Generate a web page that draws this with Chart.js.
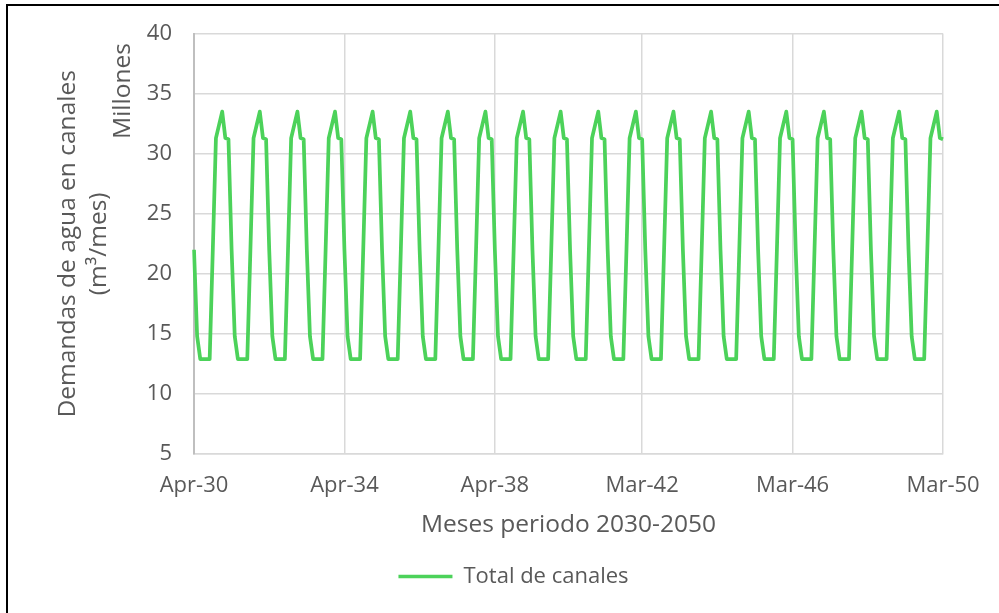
<!DOCTYPE html>
<html>
<head>
<meta charset="utf-8">
<script src="https://cdn.jsdelivr.net/npm/chart.js@4.4.1/dist/chart.umd.min.js"></script>
<style>
  html, body { margin: 0; padding: 0; background: #fff; overflow: hidden; }
  #frame { position: absolute; left: 6px; top: 4px; width: 1100px; height: 700px; border: 2px solid #000; }
  #wrap { position: absolute; left: 0; top: 0; width: 999px; height: 613px; }
</style>
</head>
<body>
<div id="frame"></div>
<div id="wrap"><canvas id="demandChart"></canvas></div>
<script>
// Months of each Apr-Mar water year and the year each one starts in
var monthNames = ['Apr', 'May', 'Jun', 'Jul', 'Aug', 'Sep', 'Oct', 'Nov', 'Dec', 'Jan', 'Feb', 'Mar'];
var startYears = [30, 31, 32, 33, 34, 35, 36, 37, 38, 39, 40, 41, 42, 43, 44, 45, 46, 47, 48, 49];

// Total de canales, millions of m3 per month, one row per year (Apr..Mar)
var demandByYear = [
    [22.0, 14.8, 12.9, 12.9, 12.9, 12.9, 22.0, 31.3, 32.4, 33.5, 31.3, 31.2],
    [22.0, 14.8, 12.9, 12.9, 12.9, 12.9, 22.0, 31.3, 32.4, 33.5, 31.3, 31.2],
    [22.0, 14.8, 12.9, 12.9, 12.9, 12.9, 22.0, 31.3, 32.4, 33.5, 31.3, 31.2],
    [22.0, 14.8, 12.9, 12.9, 12.9, 12.9, 22.0, 31.3, 32.4, 33.5, 31.3, 31.2],
    [22.0, 14.8, 12.9, 12.9, 12.9, 12.9, 22.0, 31.3, 32.4, 33.5, 31.3, 31.2],
    [22.0, 14.8, 12.9, 12.9, 12.9, 12.9, 22.0, 31.3, 32.4, 33.5, 31.3, 31.2],
    [22.0, 14.8, 12.9, 12.9, 12.9, 12.9, 22.0, 31.3, 32.4, 33.5, 31.3, 31.2],
    [22.0, 14.8, 12.9, 12.9, 12.9, 12.9, 22.0, 31.3, 32.4, 33.5, 31.3, 31.2],
    [22.0, 14.8, 12.9, 12.9, 12.9, 12.9, 22.0, 31.3, 32.4, 33.5, 31.3, 31.2],
    [22.0, 14.8, 12.9, 12.9, 12.9, 12.9, 22.0, 31.3, 32.4, 33.5, 31.3, 31.2],
    [22.0, 14.8, 12.9, 12.9, 12.9, 12.9, 22.0, 31.3, 32.4, 33.5, 31.3, 31.2],
    [22.0, 14.8, 12.9, 12.9, 12.9, 12.9, 22.0, 31.3, 32.4, 33.5, 31.3, 31.2],
    [22.0, 14.8, 12.9, 12.9, 12.9, 12.9, 22.0, 31.3, 32.4, 33.5, 31.3, 31.2],
    [22.0, 14.8, 12.9, 12.9, 12.9, 12.9, 22.0, 31.3, 32.4, 33.5, 31.3, 31.2],
    [22.0, 14.8, 12.9, 12.9, 12.9, 12.9, 22.0, 31.3, 32.4, 33.5, 31.3, 31.2],
    [22.0, 14.8, 12.9, 12.9, 12.9, 12.9, 22.0, 31.3, 32.4, 33.5, 31.3, 31.2],
    [22.0, 14.8, 12.9, 12.9, 12.9, 12.9, 22.0, 31.3, 32.4, 33.5, 31.3, 31.2],
    [22.0, 14.8, 12.9, 12.9, 12.9, 12.9, 22.0, 31.3, 32.4, 33.5, 31.3, 31.2],
    [22.0, 14.8, 12.9, 12.9, 12.9, 12.9, 22.0, 31.3, 32.4, 33.5, 31.3, 31.2],
    [22.0, 14.8, 12.9, 12.9, 12.9, 12.9, 22.0, 31.3, 32.4, 33.5, 31.3, 31.2]
];

// Labels that Excel printed under the axis
var tickLabels = ['Apr-30', 'Apr-34', 'Apr-38', 'Mar-42', 'Mar-46', 'Mar-50'];

var textColor = '#595959';
var lineColor = '#4CD25A';
var fontFamily = "'Open Sans', sans-serif";

var labels = [];
var values = [];
startYears.forEach(function(y, r) {
    monthNames.forEach(function(m, k) {
        labels.push(m + '-' + (k < 9 ? y : y + 1));
        values.push(demandByYear[r][k]);
    });
});

// Rotated "Millones" unit label next to the value axis
var unitsLabel = {
    id: 'unitsLabel',
    afterLayout: function(chart) {
        // Excel centres the legend a bit right of the canvas middle
        chart.legend.left += 42;
        chart.legend.right += 42;
    },
    afterDraw: function(chart) {
        var ctx = chart.ctx;
        ctx.save();
        ctx.translate(123.5, 91);
        ctx.rotate(-Math.PI / 2);
        ctx.font = '24.5px ' + fontFamily;
        ctx.fillStyle = textColor;
        ctx.textAlign = 'center';
        ctx.textBaseline = 'middle';
        ctx.fillText('Millones', 0, 0);
        ctx.restore();
    }
};

var ctx = document.getElementById('demandChart').getContext('2d');
var demandChart = new Chart(ctx, {
    type: 'line',
    data: {
        labels: labels,
        datasets: [{
            label: 'Total de canales',
            data: values,
            borderColor: lineColor,
            backgroundColor: lineColor,
            borderWidth: 3.75,
            borderJoinStyle: 'round',
            pointRadius: 0,
            tension: 0
        }]
    },
    options: {
        responsive: true,
        maintainAspectRatio: false,
        animation: false,
        devicePixelRatio: 1,
        layout: { padding: { left: 0, right: 56, top: 33.5, bottom: 15.5 } },
        scales: {
            x: {
                type: 'category',
                offset: false,
                afterBuildTicks: function(scale) {
                    scale.ticks = tickLabels.map(function(l) { return { value: labels.indexOf(l) }; });
                },
                afterFit: function(scale) { scale.height = 101.5; },
                ticks: { autoSkip: false, maxRotation: 0, padding: 19, color: textColor, font: { family: fontFamily, size: 22 } },
                grid: { color: '#D9D9D9', lineWidth: 1.5, drawTicks: false },
                border: { color: '#D9D9D9', width: 1.5 },
                title: {
                    display: true,
                    text: 'Meses periodo 2030-2050',
                    color: textColor,
                    font: { family: fontFamily, size: 24.5 },
                    padding: { top: 0, bottom: 16 }
                }
            },
            y: {
                min: 5,
                max: 40,
                afterFit: function(scale) { scale.width = 194; },
                ticks: { stepSize: 5, padding: 22, color: textColor, font: { family: fontFamily, size: 22, lineHeight: 1.05 } },
                grid: { color: '#D9D9D9', lineWidth: 1.5, drawTicks: false },
                border: { color: '#BFBFBF', width: 2 },
                title: {
                    display: true,
                    text: ['Demandas de agua en canales', '(m\u00B3/mes)'],
                    color: textColor,
                    font: { family: fontFamily, size: 24.5, lineHeight: 1.245 },
                    padding: { top: 53, bottom: 0 }
                }
            }
        },
        plugins: {
            legend: {
                position: 'bottom',
                labels: {
                    boxWidth: 54,
                    boxHeight: 3.5,
                    color: textColor,
                    font: { family: fontFamily, size: 22 },
                    generateLabels: function(chart) {
                        var items = Chart.defaults.plugins.legend.labels.generateLabels(chart);
                        items.forEach(function(it) { it.lineWidth = 0; it.fillStyle = lineColor; });
                        return items;
                    }
                }
            },
            tooltip: { enabled: false }
        }
    },
    plugins: [unitsLabel]
});
</script>
</body>
</html>
